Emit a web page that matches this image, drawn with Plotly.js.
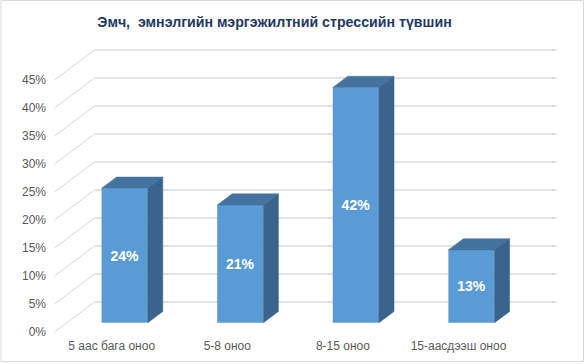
<!DOCTYPE html>
<html>
<head>
<meta charset="utf-8">
<script src="https://cdn.plot.ly/plotly-3.0.1.min.js"></script>
<style>
  html, body { margin: 0; padding: 0; background: #ffffff; }
  #chart { width: 585px; height: 364px; }
</style>
</head>
<body>
<div id="chart"></div>
<script>
// ---- data ----
const categories = ['5 аас бага оноо', '5-8 оноо', '8-15 оноо', '15-аасдээш оноо'];
const values = [24, 21, 42, 13];
const tickValues = [0, 5, 10, 15, 20, 25, 30, 35, 40, 45];
const tickLabels = tickValues.map(v => v + '%');
const chartTitle = 'Эмч,\u00a0 эмнэлгийн мэргэжилтний стрессийн түвшин';

// ---- geometry / style (pixels) ----
const W = 585, H = 364;
const M = { l: 47, r: 25, t: 40, b: 29 };
const CAT0_PX = 124.7;      // pixel x of first category centre (bar front plane)
const PX_PER_CAT = 115.6;   // pixels per category
const BASE_PX = 322.7;      // pixel y of value 0 on bar front plane
const PX_PER_PCT = 5.6;     // pixels per percent
const DEPTH_X = 40 / PX_PER_CAT;   // full floor depth, in axis units
const DEPTH_Y = 30 / PX_PER_PCT;
const F0 = 0.31, F1 = 0.685;       // bar front/back depth fractions
const BAR_W = 0.4;

const xRange = [(M.l - CAT0_PX) / PX_PER_CAT, (W - M.r - CAT0_PX) / PX_PER_CAT];
const yRange = [(BASE_PX - (H - M.b)) / PX_PER_PCT, (BASE_PX - M.t) / PX_PER_PCT];

// point in 3D-ish space (category coord c, value v, depth d) -> axis coords
function P(c, v, d) {
  return [c + (d - F0) * DEPTH_X, v + (d - F0) * DEPTH_Y];
}

const traces = [];

// back wall gridlines
let gx = [], gy = [];
tickValues.forEach(v => {
  const a = P(-0.5, v, 1), b = P(categories.length - 0.5, v, 1);
  gx.push(a[0], b[0], null); gy.push(a[1], b[1], null);
});
traces.push({ type: 'scatter', mode: 'lines', x: gx, y: gy, xaxis: 'x', yaxis: 'y',
  line: { color: '#d9d9d9', width: 1.5 }, hoverinfo: 'skip', showlegend: false });

// side wall diagonals
let dx = [], dy = [];
tickValues.forEach(v => {
  const a = P(-0.5, v, 0), b = P(-0.5, v, 1);
  dx.push(a[0], b[0], null); dy.push(a[1], b[1], null);
});
traces.push({ type: 'scatter', mode: 'lines', x: dx, y: dy, xaxis: 'x', yaxis: 'y',
  line: { color: '#d9d9d9', width: 1 }, hoverinfo: 'skip', showlegend: false });

// bar front faces
traces.push({
  type: 'bar', x: categories.map((_, i) => i), y: values, width: BAR_W,
  xaxis: 'x2', yaxis: 'y2',
  marker: { color: '#5b9bd5', line: { width: 0 } },
  text: values.map(v => v + '%'), textposition: 'inside', insidetextanchor: 'middle',
  textangle: 0,
  textfont: { family: 'Liberation Sans, Arial, sans-serif', size: 14, color: '#ffffff', weight: 'bold' },
  hoverinfo: 'skip', showlegend: false
});

// bar top & side faces
values.forEach((v, i) => {
  const L = i - BAR_W / 2, R = i + BAR_W / 2;
  const top = [P(L, v, F0), P(L, v, F1), P(R, v, F1), P(R, v, F0), P(L, v, F0)];
  const side = [P(R, 0, F0), P(R, 0, F1), P(R, v, F1), P(R, v, F0), P(R, 0, F0)];
  traces.push({ type: 'scatter', mode: 'lines', fill: 'toself', xaxis: 'x2', yaxis: 'y2',
    x: top.map(p => p[0]), y: top.map(p => p[1]),
    fillcolor: '#45739f', line: { color: '#45739f', width: 0.5 }, hoverinfo: 'skip', showlegend: false });
  traces.push({ type: 'scatter', mode: 'lines', fill: 'toself', xaxis: 'x2', yaxis: 'y2',
    x: side.map(p => p[0]), y: side.map(p => p[1]),
    fillcolor: '#3b648c', line: { color: '#3b648c', width: 0.5 }, hoverinfo: 'skip', showlegend: false });
});

const pw = W - M.l - M.r, ph = H - M.t - M.b;
const axisFont = { family: 'Liberation Sans, Arial, sans-serif', size: 12, color: '#595959' };

const layout = {
  width: W, height: H, margin: M,
  paper_bgcolor: '#ffffff', plot_bgcolor: 'rgba(0,0,0,0)',
  showlegend: false,
  title: {
    text: chartTitle, x: 274.5 / W, xanchor: 'center', xref: 'container',
    y: 1 - 22 / H, yanchor: 'middle', yref: 'container',
    font: { family: 'Liberation Sans, Arial, sans-serif', size: 14.2, color: '#1f3864', weight: 'bold' }
  },
  xaxis: {
    range: xRange, tickvals: categories.map((_, i) => i), ticktext: categories,
    showgrid: false, zeroline: false, showline: false, ticks: '',
    ticklabelshift: -13, ticklabelstandoff: 2, tickfont: axisFont, fixedrange: true
  },
  yaxis: {
    range: yRange,
    // labels sit on the front edge of the floor (depth 0)
    tickvals: tickValues.map(v => P(0, v, 0)[1]), ticktext: tickLabels,
    showgrid: false, zeroline: false, showline: false, ticks: '',
    tickfont: axisFont, fixedrange: true
  },
  xaxis2: { overlaying: 'x', range: xRange, visible: false, fixedrange: true },
  yaxis2: { overlaying: 'y', range: yRange, visible: false, fixedrange: true },
  shapes: [{
    type: 'rect', xref: 'paper', yref: 'paper',
    x0: (1 - M.l) / pw, x1: 1 + (M.r - 1.5) / pw,
    y0: -(M.b - 2.5) / ph, y1: 1 + (M.t - 0.5) / ph,
    line: { color: '#d9d9d9', width: 1 }, fillcolor: 'rgba(0,0,0,0)'
  }]
};

Plotly.newPlot('chart', traces, layout, { staticPlot: true, displayModeBar: false });
</script>
</body>
</html>
